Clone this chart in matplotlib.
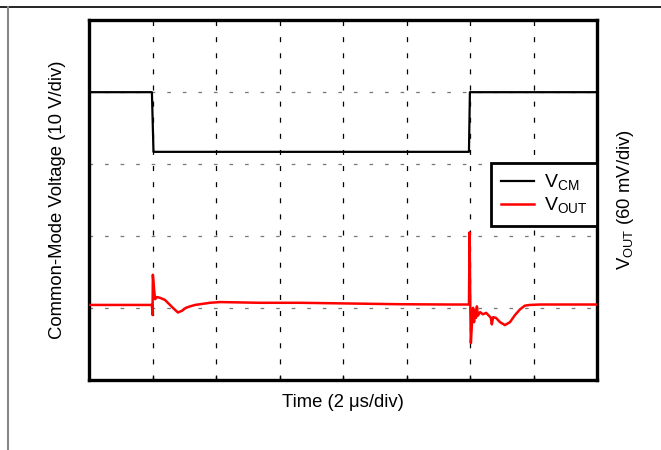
import matplotlib
matplotlib.use("Agg")
import matplotlib.pyplot as plt
from matplotlib.lines import Line2D

plt.rcParams['font.family'] = ['Liberation Sans', 'DejaVu Sans']
plt.rcParams['lines.scale_dashes'] = False

# Time axis: 2 us/div, 8 divisions; vertical: 5 divisions
x_divs = [0, 2, 4, 6, 8, 10, 12, 14, 16]
y_divs = [0, 1, 2, 3, 4, 5]

# Common-mode voltage (in divisions)
vcm_t = [0, 1.98, 2.03, 11.96, 11.99, 16]
vcm_v = [4.0, 4.0, 3.17, 3.17, 4.0, 4.0]

# Output voltage (in divisions)
vout_t = [0, 1.98, 2.00, 2.01, 2.05, 2.08, 2.14, 2.23, 2.39, 2.55, 2.64, 2.80, 2.93,
          3.05, 3.18, 3.34, 3.49, 3.81, 4.12, 5.38, 6.64, 8.22, 9.79, 11.36, 11.96,
          11.98, 12.00, 12.02, 12.06, 12.09, 12.12, 12.15, 12.18, 12.21, 12.24, 12.31,
          12.40, 12.50, 12.59, 12.65, 12.68, 12.72, 12.81, 12.94, 13.09, 13.25, 13.41,
          13.57, 13.72, 13.88, 14.20, 16]
vout_v = [1.04, 1.04, 0.90, 1.46, 1.25, 1.12, 1.15, 1.14, 1.11, 1.04, 1.00, 0.935, 0.96,
          1.00, 1.02, 1.04, 1.05, 1.07, 1.08, 1.07, 1.07, 1.06, 1.05, 1.046, 1.046,
          2.05, 1.11, 0.51, 0.83, 1.00, 0.80, 0.97, 0.86, 1.02, 0.89, 0.94,
          0.91, 0.93, 0.89, 0.86, 0.77, 0.87, 0.86, 0.80, 0.76, 0.80, 0.90,
          0.98, 1.03, 1.04, 1.046, 1.046]

W, H = 661, 450
fig = plt.figure(figsize=(W / 100, H / 100), dpi=100)

# page decorations: top rule and left grey bar
fig.add_artist(Line2D([0, 1], [1 - 7 / H, 1 - 7 / H], transform=fig.transFigure,
                      color='black', lw=1.2))
fig.add_artist(Line2D([7.5 / W, 7.5 / W], [0, 1 - 7 / H], transform=fig.transFigure,
                      color='#888888', lw=1.5))

ax_l, ax_r, ax_t, ax_b = 89, 597.3, 20.3, 379.7
ax = fig.add_axes([ax_l / W, 1 - ax_b / H, (ax_r - ax_l) / W, (ax_b - ax_t) / H])
ax.set_xlim(x_divs[0], x_divs[-1])
ax.set_ylim(y_divs[0], y_divs[-1])

for x in x_divs[1:-1]:
    ax.axvline(x, color='black', lw=0.9, dashes=(3.6, 8.0), zorder=1)
for y in y_divs[1:-1]:
    ax.axhline(y, color='#777777', lw=0.9, dashes=(2.6, 8.6), zorder=1)

ax.plot(vcm_t, vcm_v, color='black', lw=1.6, label=r'V$_{\mathregular{CM}}$', zorder=3)
ax.plot(vout_t, vout_v, color='#ff0000', lw=1.8, label=r'V$_{\mathregular{OUT}}$', zorder=3)

ax.set_xticks(x_divs[1:-1])
ax.set_yticks([])
ax.tick_params(axis='x', direction='in', length=3, width=1, labelbottom=False)
for s in ax.spines.values():
    s.set_linewidth(2.4)

ax.set_xlabel('Time (2 μs/div)', fontsize=13.3, labelpad=10)
fig.text(57 / W, 1 - 200 / H, 'Common-Mode Voltage (10 V/div)', rotation=90,
         ha='center', va='center', fontsize=13.3)
fig.text(626 / W, 1 - 200 / H, r'V$_{\mathregular{OUT}}$ (60 mV/div)', rotation=90,
         ha='center', va='center', fontsize=13.3)

leg = ax.legend(loc='upper right', bbox_to_anchor=(1.0, (ax_b - 163) / (ax_b - ax_t)),
                borderaxespad=0, fancybox=False, framealpha=1, edgecolor='black',
                fontsize=14, handlelength=1.7, handletextpad=0.5, labelspacing=0.15,
                borderpad=0.5)
leg.get_frame().set_linewidth(2.0)

fig.savefig('out.png', dpi=100)
